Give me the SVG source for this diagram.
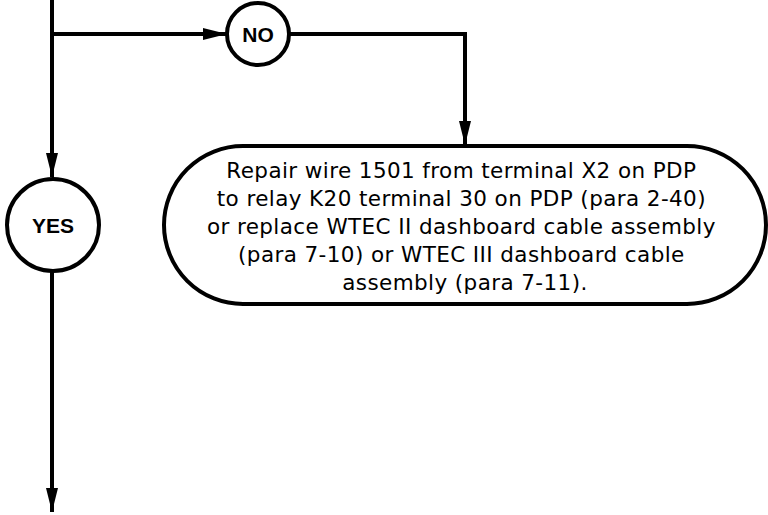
<svg xmlns="http://www.w3.org/2000/svg" width="768" height="515" viewBox="0 0 768 515">
<style>
.ln{fill:none;stroke:#000;stroke-width:4}
.nd{fill:#fff;stroke:#000;stroke-width:4}
.lb{font-family:"Liberation Sans",Arial,sans-serif;font-weight:bold;font-size:21px;text-anchor:middle}
.tx{font-family:"DejaVu Sans","Liberation Sans",sans-serif;font-size:21.5px;letter-spacing:0.4px;text-anchor:middle}
</style>
<defs>
<marker id="ah" viewBox="0 0 24 12" refX="24" refY="6" markerWidth="24" markerHeight="12" markerUnits="userSpaceOnUse" orient="auto">
<path d="M0,0 L24,6 L0,12 Z" fill="#000"/>
</marker>
</defs>
<g id="connectors">
<path class="ln" d="M52,0 V177" marker-end="url(#ah)"/>
<path class="ln" d="M52,34 H227" marker-end="url(#ah)"/>
<path class="ln" d="M290,34 H465 V145" marker-end="url(#ah)"/>
<path class="ln" d="M52,272 V512" marker-end="url(#ah)"/>
</g>
<g id="no">
<circle class="nd" cx="258" cy="34" r="31"/>
<text class="lb" x="258" y="42">NO</text>
</g>
<g id="yes">
<circle class="nd" cx="53" cy="225" r="46"/>
<text class="lb" x="53" y="233">YES</text>
</g>
<g id="repair">
<rect class="nd" x="164" y="146" width="602" height="158" rx="79" ry="79"/>
<text class="tx">
<tspan x="465" y="178">Repair wire 1501 from terminal X2 on PDP</tspan>
<tspan x="465" y="206">to relay K20 terminal 30 on PDP (para 2-40)</tspan>
<tspan x="465" y="234">or replace WTEC II dashboard cable assembly</tspan>
<tspan x="465" y="262">(para 7-10) or WTEC III dashboard cable</tspan>
<tspan x="465" y="290">assembly (para 7-11).</tspan>
</text>
</g>
</svg>
